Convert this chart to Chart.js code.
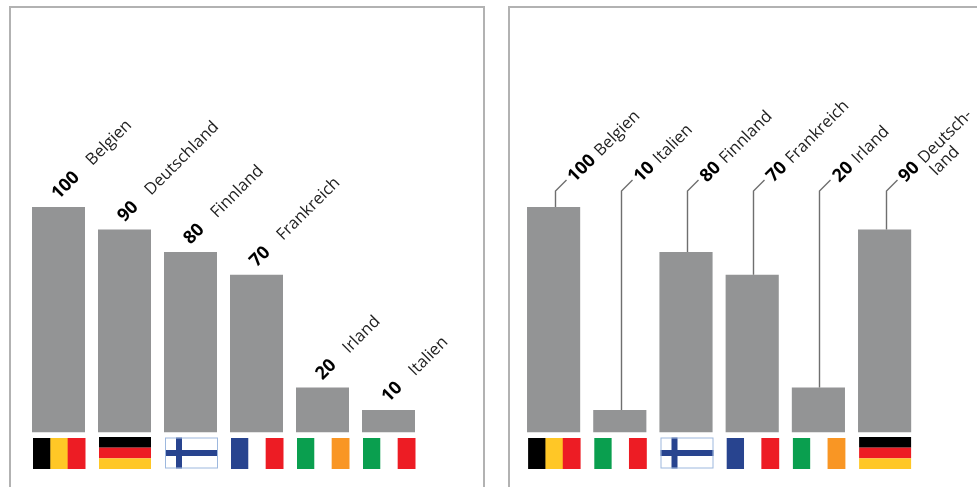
<!DOCTYPE html>
<html lang="de">
<head>
<meta charset="utf-8">
<title>Balken nach Ländern</title>
<script src="https://cdn.jsdelivr.net/npm/chart.js@4/dist/chart.umd.min.js"></script>
<style>
  html, body { margin: 0; padding: 0; background: #fff; overflow: hidden; }
  #page { position: relative; width: 977px; height: 487px; overflow: hidden; }
  .frame { position: absolute; top: 6px; height: 490px; border: 2px solid #b2b2b2; box-sizing: border-box; }
  canvas { position: absolute; top: 0; }
</style>
</head>
<body>
<div id="page">
  <div class="frame" style="left:9px;width:476px"></div>
  <div class="frame" style="left:508px;width:500px"></div>
  <canvas id="sorted" style="left:0" width="490" height="487"></canvas>
  <canvas id="mixed" style="left:490px" width="487" height="487"></canvas>
</div>
<script>
// Left panel: countries ordered by value
const sortedCountries = ['Belgien', 'Deutschland', 'Finnland', 'Frankreich', 'Irland', 'Italien'];
const sortedValues = [100, 90, 80, 70, 20, 10];
const sortedFlags = ['BE', 'DE', 'FI', 'FR', 'IE', 'IT'];

// Right panel: same countries in a different order, labels carried on leader lines
const mixedCountries = ['Belgien', 'Italien', 'Finnland', 'Frankreich', 'Irland', ['Deutsch-', 'land']];
const mixedValues = [100, 10, 80, 70, 20, 90];
const mixedFlags = ['BE', 'IT', 'FI', 'FR', 'IE', 'DE'];

const BAR_COLOR = '#939495';
const LEADER_COLOR = '#6f6f6f';
const VALUE_COLOR = '#000000';
const NAME_COLOR = '#222222';
const VALUE_FONT = 'bold 18px "Open Sans"';
const NAME_FONT = '16.5px "Open Sans"';
const ANGLE = -Math.PI / 4;

const BLACK = '#000000', YELLOW = '#ffc726', RED = '#ed1c24', BLUE = '#28448f',
      GREEN = '#0a9f4f', ORANGE = '#f99624', WHITE = '#ffffff';

// Flags as stripe lists: v = vertical bands, h = horizontal bands
const FLAG_STRIPES = {
  BE: { dir: 'v', colors: [BLACK, YELLOW, RED] },
  DE: { dir: 'h', colors: [BLACK, RED, YELLOW] },
  FR: { dir: 'v', colors: [BLUE, WHITE, RED] },
  IE: { dir: 'v', colors: [GREEN, WHITE, ORANGE] },
  IT: { dir: 'v', colors: [GREEN, WHITE, RED] }
};

function drawFinland(ctx, x, y, w, h) {
  ctx.fillStyle = WHITE;
  ctx.fillRect(x, y, w, h);
  ctx.fillStyle = BLUE;
  ctx.fillRect(x + 11, y, 6, h);
  ctx.fillRect(x, y + 12.5, w, 6);
  ctx.strokeStyle = '#9db8de';
  ctx.lineWidth = 1;
  ctx.strokeRect(x + 0.5, y + 0.5, w - 1, h - 1);
}

function drawFlag(ctx, code, x, y, w, h) {
  if (code === 'FI') { drawFinland(ctx, x, y - 0.5, w + 1, h); return; }
  const flag = FLAG_STRIPES[code];
  flag.colors.forEach((color, i) => {
    ctx.fillStyle = color;
    if (flag.dir === 'v') ctx.fillRect(x + i * w / 3, y, w / 3 + 0.5, h);
    else ctx.fillRect(x, y - 1 + i * (h + 1) / 3, w, (h + 1) / 3);
  });
}

// Flag row under the baseline, aligned to each bar through the x scale
const flagRow = {
  id: 'flagRow',
  afterDatasetsDraw(chart, args, opts) {
    const ctx = chart.ctx;
    const meta = chart.getDatasetMeta(0);
    const base = chart.scales.y.getPixelForValue(0);
    ctx.save();
    meta.data.forEach((bar, i) => {
      const left = chart.scales.x.getPixelForValue(i) - 25.5;
      drawFlag(ctx, opts.codes[i], left, base + 5.4, 52, 31);
    });
    ctx.restore();
  }
};

// Rotated value + country name above each bar, optionally on a leader line
const slantLabels = {
  id: 'slantLabels',
  afterDatasetsDraw(chart, args, opts) {
    const ctx = chart.ctx;
    const labels = chart.data.labels;
    const values = chart.data.datasets[0].data;
    chart.getDatasetMeta(0).data.forEach((bar, i) => {
      let ax, ay;
      if (opts.elbowY) {
        const lx = bar.x + 1;
        const ex = lx + 11, ey = opts.elbowY - 11;
        ctx.save();
        ctx.strokeStyle = LEADER_COLOR;
        ctx.lineWidth = 1.4;
        ctx.beginPath();
        ctx.moveTo(Math.round(lx) + 0.5, bar.y);
        ctx.lineTo(Math.round(lx) + 0.5, opts.elbowY);
        ctx.lineTo(Math.round(lx) + 11.5, ey);
        ctx.stroke();
        ctx.restore();
        ax = ex + 9; ay = ey + 3;
      } else {
        ax = bar.x; ay = bar.y - 7;
      }
      ctx.save();
      ctx.translate(ax, ay);
      ctx.rotate(ANGLE);
      ctx.textAlign = 'left';
      ctx.textBaseline = 'alphabetic';
      ctx.fillStyle = VALUE_COLOR;
      ctx.font = VALUE_FONT;
      const text = String(values[i]);
      ctx.fillText(text, 0, 0);
      const start = ctx.measureText(text).width + opts.gap;
      ctx.fillStyle = NAME_COLOR;
      ctx.font = NAME_FONT;
      const lines = [].concat(labels[i]);
      lines.forEach((line, n) => ctx.fillText(line, start, n * 17));
      ctx.restore();
    });
  }
};

function makePanel(id, categories, values, flags, left, right, labelOptions) {
  const canvas = document.getElementById(id);
  return new Chart(canvas, {
    type: 'bar',
    data: {
      labels: categories,
      datasets: [{
        data: values,
        backgroundColor: BAR_COLOR,
        barPercentage: 1,
        categoryPercentage: 0.803
      }]
    },
    options: {
      responsive: false,
      animation: false,
      layout: { padding: { left, right, top: 207, bottom: 54.4 } },
      scales: {
        x: { display: false },
        y: { display: false, min: 0, max: 100 }
      },
      plugins: {
        legend: { display: false },
        tooltip: { enabled: false },
        flagRow: { codes: flags },
        slantLabels: labelOptions
      }
    },
    plugins: [flagRow, slantLabels]
  });
}

makePanel('sorted', sortedCountries, sortedValues, sortedFlags, 25.5, 490 - 421.5, { gap: 17 });
makePanel('mixed', mixedCountries, mixedValues, mixedFlags, 30.5, 487 - 427.7, { gap: 6, elbowY: 191 });
</script>
</body>
</html>
